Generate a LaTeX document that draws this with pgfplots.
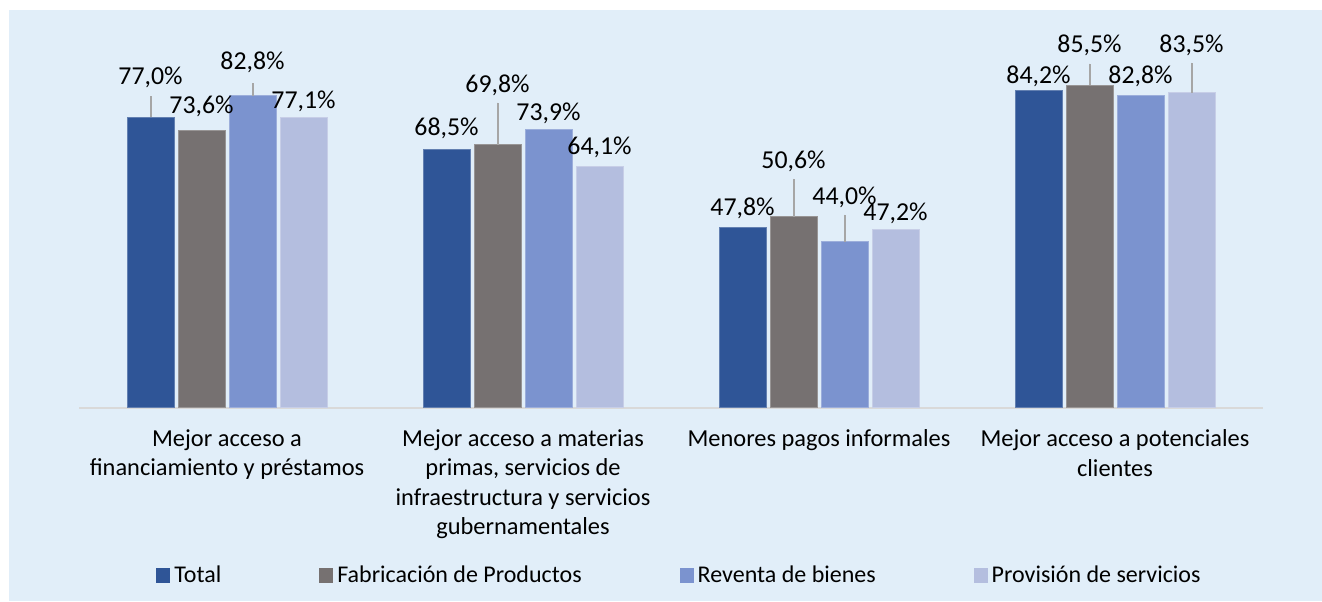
\documentclass[border=0pt]{standalone}
\usepackage{pgfplots}
\usepackage{pgfplotstable}
\pgfplotsset{compat=1.18}
\usepackage{fontspec}
\setmainfont{Carlito}

\definecolor{cTot}{HTML}{2F5597}
\definecolor{cFab}{HTML}{767171}
\definecolor{cRev}{HTML}{7B93CF}
\definecolor{cPro}{HTML}{B4BEDF}
\definecolor{bgblue}{HTML}{E1EEF9}

% x = categoria, y = valor, off = desplazamiento de la etiqueta (pt), lead = linea guia
\pgfplotstableread{
x y off lead
0 77.0 20.0 5.6
1 68.5 10.7 0
2 47.8 9.7 0
3 84.2 6.8 0
}\tot
\pgfplotstableread{
x y off lead
0 73.6 12.1 0
1 69.8 29.8 11.1
2 50.6 28.0 10.1
3 85.5 20.2 5.8
}\fab
\pgfplotstableread{
x y off lead
0 82.8 16.7 3.2
1 73.9 8.0 0
2 44.0 22.4 7.2
3 82.8 9.4 0
}\rev
\pgfplotstableread{
x y off lead
0 77.1 8.0 0
1 64.1 9.5 0
2 47.2 8.4 0
3 83.5 24.0 8.0
}\pro

\begin{document}
\begin{tikzpicture}
\useasboundingbox (0,0) rectangle (661pt,300.5pt);
\fill[white] (0,0) rectangle (661pt,300.5pt);
\fill[bgblue] (4.5pt,0) rectangle (661pt,295.5pt);
\begin{axis}[
    at={(39.5pt,96.65pt)}, anchor=south west,
    scale only axis, width=592pt, height=188.5pt,
    ybar=2pt, bar width=23.5pt,
    xmin=-0.5, xmax=3.5, ymin=0, ymax=100,
    axis x line=bottom, axis y line=none,
    x axis line style={draw=black!15, line width=1pt, -},
    xtick={0,1,2,3}, ytick=\empty, major tick length=0pt,
    xticklabels={{Mejor acceso a\\financiamiento y préstamos},
                 {Mejor acceso a materias\\primas, servicios de\\infraestructura y servicios\\gubernamentales},
                 {Menores pagos informales},
                 {Mejor acceso a potenciales\\clientes}},
    xticklabel style={align=center, font=\fontsize{12.2}{14.7}\selectfont, text=black, yshift=-7.5pt},
    point meta=y,
    nodes near coords={\pgfmathprintnumber[fixed,fixed zerofill,precision=1,use comma,assume math mode=true]{\pgfplotspointmeta}\%},
    visualization depends on={\thisrow{off} \as \labeloff},
    every node near coord/.append style={anchor=center, yshift=\labeloff, font=\fontsize{12.9}{14}\selectfont, text=black},
    error bars/y dir=plus, error bars/y explicit,
    error bars/error mark=none,
    error bars/error bar style={draw=black!35, line width=1pt},
    legend columns=4,
    legend style={at={(0.508,-0.446)}, anchor=center, draw=none, fill=none,
        font=\fontsize{12}{14}\selectfont,
        /tikz/every even column/.append style={column sep=47pt}},
    legend image code/.code={\fill[#1, draw=none] (0pt,-3.8pt) rectangle (7pt,3.8pt);},
]
\addplot[fill=cTot, draw=cTot!75!white, line width=0.5pt] table[x=x, y=y, y error=lead] {\tot};
\addplot[fill=cFab, draw=cFab!75!white, line width=0.5pt] table[x=x, y=y, y error=lead] {\fab};
\addplot[fill=cRev, draw=cRev!75!white, line width=0.5pt] table[x=x, y=y, y error=lead] {\rev};
\addplot[fill=cPro, draw=cPro!75!white, line width=0.5pt] table[x=x, y=y, y error=lead] {\pro};
\legend{Total, Fabricación de Productos, Reventa de bienes, Provisión de servicios}
\end{axis}
\end{tikzpicture}
\end{document}
